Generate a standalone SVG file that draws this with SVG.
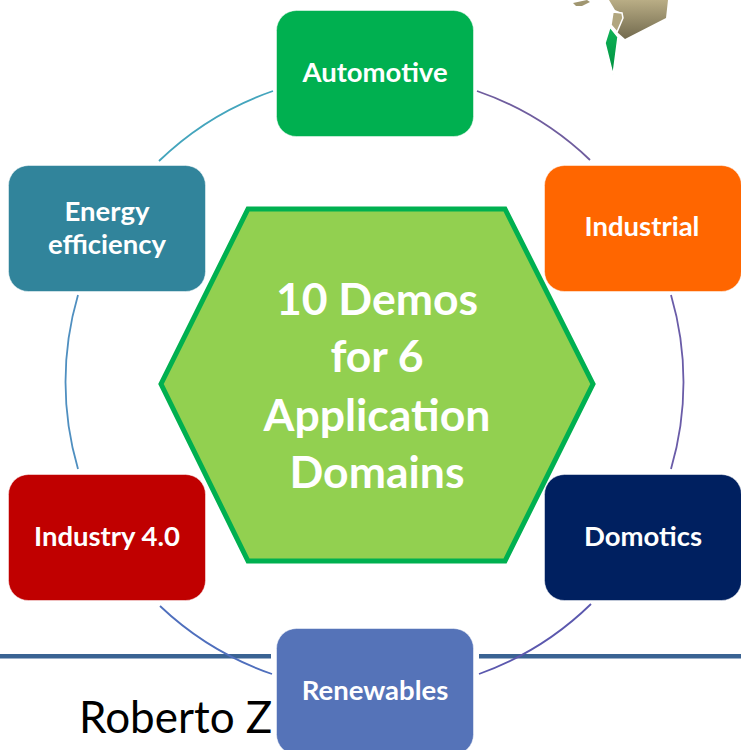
<svg xmlns="http://www.w3.org/2000/svg" width="741" height="750" viewBox="0 0 741 750">
<style>
.n{stroke:#fff;stroke-opacity:.5;stroke-width:1}
.t{font-family:Lato,"Liberation Sans",sans-serif;font-weight:700;font-size:27.500px;fill:#fff;text-anchor:middle}
.h{font-size:44.500px}
.c{fill:none;stroke-width:1.800}
</style>
<defs>
<linearGradient id="land" x1="0" y1="0" x2="0" y2="1"><stop offset="0" stop-color="#b9ad85"/><stop offset="1" stop-color="#726a4e"/></linearGradient>
<linearGradient id="il" x1="0" y1="0" x2="0" y2="1"><stop offset="0" stop-color="#0fb457"/><stop offset="1" stop-color="#008f3f"/></linearGradient>
</defs>
<rect width="741" height="750" fill="#fff"/>
<g id="map">
<path d="M573 3L587 0L590 2L582 6L576 6Z" fill="#a09670"/>
<path d="M609 0L615 10L622 13L623 18L617 32L625 39L666 18L668 0Z" fill="url(#land)"/>
<path d="M613 12L622 13L623 18L617 32L611 25Z" fill="#b1a67f" stroke="#fff" stroke-width="1.500"/>
<path d="M610 27L618 37L613 75L605 43Z" fill="url(#il)" stroke="#fff" stroke-width="1.500"/>
</g>
<g id="footer">
<rect x="0" y="654" width="271" height="4.500" fill="#3a6393"/>
<rect x="479" y="654" width="262" height="4.500" fill="#3a6393"/>
<text x="79" y="733" font-family="Lato,'Liberation Sans',sans-serif" font-size="44" fill="#000">Roberto Z</text>
</g>
<g id="connectors">
<path class="c" d="M273 91A309 309 0 0 0 159 161" stroke="#44a5bd"/>
<path class="c" d="M477 91A309 309 0 0 1 590 160" stroke="#6f5d9e"/>
<path class="c" d="M671 295A309 309 0 0 1 671 469" stroke="#6a5ca8"/>
<path class="c" d="M591 604A309 309 0 0 1 479 674" stroke="#5b58ae"/>
<path class="c" d="M272 674A309 309 0 0 1 160 606" stroke="#4f6fbd"/>
<path class="c" d="M78 469A309 309 0 0 1 78 295" stroke="#4f8fc0"/>
</g>
<g id="automotive"><rect class="n" x="276.500" y="10.500" width="197" height="126" rx="20" fill="#00b050"/><text class="t" x="375" y="82">Automotive</text></g>
<g id="industrial"><rect class="n" x="544.500" y="165.500" width="197" height="126" rx="20" fill="#ff6600"/><text class="t" x="642" y="236">Industrial</text></g>
<g id="domotics"><rect class="n" x="544.500" y="474.500" width="197" height="126" rx="20" fill="#002060"/><text class="t" x="643" y="546">Domotics</text></g>
<g id="renewables"><rect class="n" x="276.500" y="628.500" width="197" height="126" rx="20" fill="#5573b8"/><text class="t" x="375" y="700">Renewables</text></g>
<g id="industry40"><rect class="n" x="8.500" y="474.500" width="197" height="126" rx="20" fill="#c00000"/><text class="t" x="107" y="546">Industry 4.0</text></g>
<g id="energy"><rect class="n" x="8.500" y="165.500" width="197" height="126" rx="20" fill="#31849b"/><text class="t" x="107" y="221">Energy</text><text class="t" x="107" y="254">efficiency</text></g>
<g id="center">
<path d="M248 209L505 209L593 384L505 561L248 561L161 384Z" fill="#92d050" stroke="#00b050" stroke-width="5"/>
<text class="t h" x="377" y="315">10 Demos</text>
<text class="t h" x="377" y="372">for 6</text>
<text class="t h" x="377" y="431">Application</text>
<text class="t h" x="377" y="488">Domains</text>
</g>
</svg>
